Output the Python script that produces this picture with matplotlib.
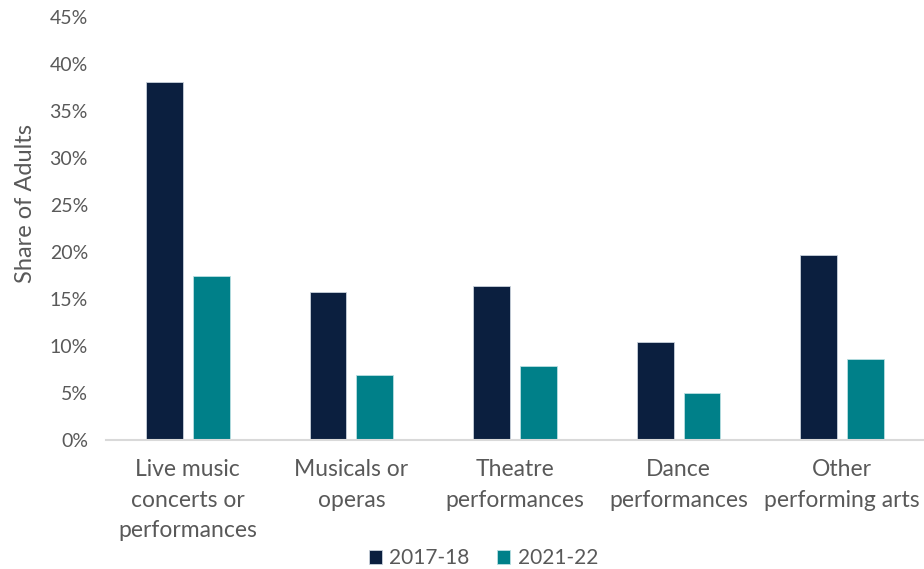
import matplotlib
matplotlib.use("Agg")
import matplotlib.pyplot as plt
import numpy as np
from matplotlib.ticker import FuncFormatter

categories = ["Live music\nconcerts or\nperformances", "Musicals or\noperas",
              "Theatre\nperformances", "Dance\nperformances", "Other\nperforming arts"]
series_names = ["2017-18", "2021-22"]
values_2017 = [38.1, 15.8, 16.4, 10.4, 19.7]
values_2021 = [17.5, 6.9, 7.9, 5.0, 8.6]
yticks = [0, 5, 10, 15, 20, 25, 30, 35, 40, 45]

plt.rcParams['font.family'] = ['Lato', 'DejaVu Sans']
grey = '#595959'

fig = plt.figure(figsize=(9.24, 5.69), dpi=100)
ax = fig.add_axes([0.1147, 0.2267, 0.8853, 0.7433])

x = np.arange(len(categories))
w = 0.226
off = 0.143
ax.bar(x - off, values_2017, w, color='#0b1f3f', edgecolor='#c9d2dc', linewidth=0.6, label=series_names[0])
ax.bar(x + off, values_2021, w, color='#008089', edgecolor='#b9dfe2', linewidth=0.6, label=series_names[1])

ax.set_xlim(-0.5, len(categories) - 0.5)
ax.set_ylim(0, 45)
ax.set_yticks(yticks)
ax.yaxis.set_major_formatter(FuncFormatter(lambda v, p: f"{v:.0f}%"))
ax.set_xticks(x)
ax.set_xticklabels(categories, linespacing=1.55)

for s in ['top', 'right', 'left']:
    ax.spines[s].set_visible(False)
ax.spines['bottom'].set_color('#d9d9d9')
ax.spines['bottom'].set_linewidth(1.5)

ax.tick_params(axis='y', length=0, pad=13, labelsize=14, labelcolor=grey)
ax.tick_params(axis='x', length=0, pad=14, labelsize=16.5, labelcolor=grey)

ax.set_ylabel("Share of Adults", fontsize=17, color=grey)
ax.yaxis.set_label_coords(-0.086, 0.56)

leg = fig.legend(loc='center', bbox_to_anchor=(0.523, 0.019), ncol=2, frameon=False,
                 fontsize=15, handlelength=0.65, handleheight=0.65, handletextpad=0.35,
                 columnspacing=1.3, labelcolor=grey)

fig.savefig("out.png", dpi=100)
